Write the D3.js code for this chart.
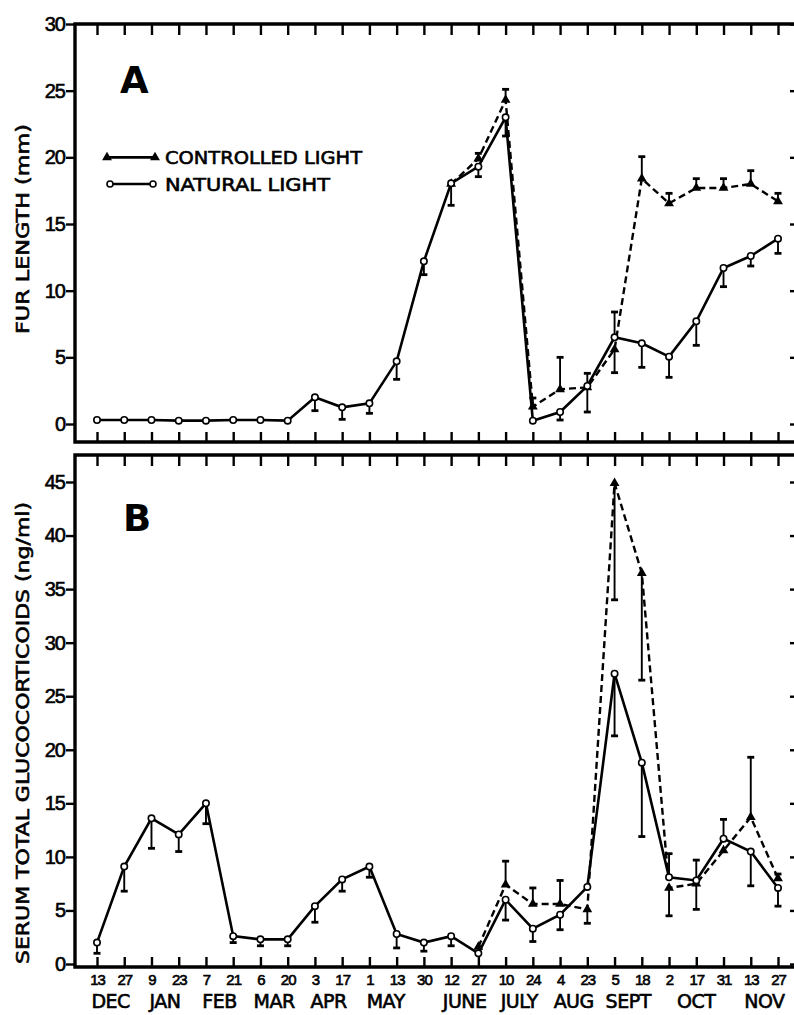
<!DOCTYPE html>
<html>
<head>
<meta charset="utf-8">
<script src="https://cdn.jsdelivr.net/npm/d3@7"></script>
<style>
  body { margin: 0; background: #fff; }
  svg { display: block; font-family: "DejaVu Sans", sans-serif; }
  .axisFig path { display: none; }
  .axisFig line { stroke: #000; stroke-width: 2.4; }
  .axisFig text { fill: #000; stroke: #000; stroke-width: 0.6px; }
  .lab { fill: #000; stroke: #000; stroke-width: 0.6px; }
</style>
</head>
<body>
<svg id="FigSVG"></svg>
<script>
// sampling dates (one point every ~2 weeks, Dec -> Nov)
var dayLabels = ["13","27","9","23","7","21","6","20","3","17","1","13","30",
                 "12","27","10","24","4","23","5","18","2","17","31","13","27"];
var monthLabels = ["DEC","JAN","FEB","MAR","APR","MAY","JUNE","JULY","AUG","SEPT","OCT","NOV"];
// where each month name sits, in units of sample index
var monthCentres = [0.5, 2.5, 4.5, 6.5, 8.5, 10.6, 13.5, 15.5, 17.5, 19.5, 22, 24.5];

var furTicks = [0, 5, 10, 15, 20, 25, 30];
var glucoTicks = [0, 5, 10, 15, 20, 25, 30, 35, 40, 45];

// A: fur length (mm)
var furNatural = [0.3, 0.3, 0.3, 0.25, 0.25, 0.3, 0.3, 0.25, 2.0, 1.25, 1.55, 4.7, 12.2,
                  18.05, 19.3, 23.0, 0.25, 0.9, 2.85, 6.5, 6.05, 5.05, 7.7, 11.7, 12.6, 13.9];
// signed SE: negative = bar drawn below the point
var furNaturalErr = [0, 0, 0, 0, 0, 0, 0, 0, -1.0, -0.9, -0.75, -1.35, -1.0,
                     -1.65, -0.75, -1.4, 0, -0.6, -1.95, 1.9, -1.8, -1.55, -1.8, -1.4, -0.75, -1.1];
var furControlled = [null, null, null, null, null, null, null, null, null, null, null, null, null,
                     18.0, 19.9, 24.3, 1.3, 2.6, 2.75, 5.6, 18.4, 16.55, 17.7, 17.7, 18.0, 16.7];
var furControlledErr = [null, null, null, null, null, null, null, null, null, null, null, null, null,
                        0, 0.4, 0.8, 0.65, 2.4, 1.05, -1.75, 1.65, 0.75, 0.7, 0.7, 1.0, 0.6];

// B: serum total glucocorticoids (ng/ml)
var glucoNatural = [2.0, 9.1, 13.6, 12.1, 15.0, 2.6, 2.3, 2.3, 5.4, 7.9, 9.1, 2.8, 2.0,
                    2.6, 1.0, 6.0, 3.3, 4.6, 7.2, 27.1, 18.8, 8.1, 7.8, 11.7, 10.5, 7.1];
var glucoNaturalErr = [-1.0, -2.3, -2.8, -1.6, -1.9, -0.6, -0.6, -0.6, -1.5, -1.1, -1.0, -1.3, -0.8,
                       -0.9, 0, -1.9, -1.2, -1.4, 0, -5.8, -6.9, 2.2, 1.9, 1.8, -3.2, -1.7];
var glucoControlled = [null, null, null, null, null, null, null, null, null, null, null, null, null, null,
                       1.6, 7.4, 5.6, 5.6, 5.1, 44.9, 36.5, 7.1, 7.5, 10.6, 13.7, 8.0];
var glucoControlledErr = [null, null, null, null, null, null, null, null, null, null, null, null, null, null,
                          0, 2.2, 1.5, 2.2, -1.3, -10.9, -10.0, -2.6, -2.4, 0, 5.6, 0.4];

var width = 794, height = 1015;
var frameLeft = 75, frameRight = 797;

var FigSVG = d3.select("#FigSVG")
    .attr("width", width)
    .attr("height", height);

var x = d3.scaleLinear()
    .domain([0, dayLabels.length - 1])
    .range([97, 778]);

var yA = d3.scaleLinear().domain([0, 30]).range([424, 24]);
var yB = d3.scaleLinear().domain([0, 45]).range([964, 482]);

function drawPanel(y, top, bottom, ticks, nat, natErr, ctl, ctlErr, showDays) {
    var g = FigSVG.append("g");

    // left axis, ticks outward with labels
    g.append("g")
        .attr("class", "axisFig")
        .attr("transform", "translate(" + frameLeft + ",0)")
        .call(d3.axisLeft(y).tickValues(ticks).tickSizeInner(9).tickSizeOuter(0).tickPadding(1))
        .selectAll("text")
        .attr("font-size", "20px")
        .attr("letter-spacing", "-1px");

    // right axis, ticks inward
    g.append("g")
        .attr("class", "axisFig")
        .attr("transform", "translate(" + frameRight + ",0)")
        .call(d3.axisLeft(y).tickValues(ticks).tickSizeInner(7).tickSizeOuter(0).tickFormat(""));

    // top ticks
    g.append("g")
        .attr("class", "axisFig")
        .attr("transform", "translate(0," + top + ")")
        .call(d3.axisBottom(x).tickValues(d3.range(dayLabels.length)).tickSizeInner(11).tickSizeOuter(0).tickFormat(""));

    // bottom ticks (+ day labels on the lower panel)
    var bottomAxis = g.append("g")
        .attr("class", "axisFig")
        .attr("transform", "translate(0," + bottom + ")")
        .call(d3.axisBottom(x).tickValues(d3.range(dayLabels.length)).tickSizeInner(-10).tickSizeOuter(0)
            .tickPadding(7)
            .tickFormat(function(i) { return showDays ? dayLabels[i] : ""; }));
    bottomAxis.selectAll("text")
        .attr("font-size", "15px")
        .attr("letter-spacing", "-1px");

    // frame
    g.append("path")
        .attr("d", "M" + frameRight + "," + top + "H" + frameLeft + "V" + bottom + "H" + frameRight)
        .attr("fill", "none")
        .attr("stroke", "#000")
        .attr("stroke-width", 3.4);

    ////////////////////// error bars //////////////////////
    function errorBars(vals, errs) {
        var idx = d3.range(vals.length).filter(function(i) {
            return vals[i] != null && errs[i];
        });
        var eg = g.append("g").attr("stroke", "#000");
        eg.selectAll("line.bar")
            .data(idx)
            .enter()
            .append("line")
            .attr("class", "bar")
            .attr("x1", function(i) { return x(i); })
            .attr("x2", function(i) { return x(i); })
            .attr("y1", function(i) { return y(vals[i]); })
            .attr("y2", function(i) { return y(vals[i] + errs[i]); })
            .attr("stroke-width", 1.9);
        eg.selectAll("line.cap")
            .data(idx)
            .enter()
            .append("line")
            .attr("class", "cap")
            .attr("x1", function(i) { return x(i) - 3.5; })
            .attr("x2", function(i) { return x(i) + 3.5; })
            .attr("y1", function(i) { return y(vals[i] + errs[i]); })
            .attr("y2", function(i) { return y(vals[i] + errs[i]); })
            .attr("stroke-width", 2.8);
    }
    errorBars(nat, natErr);
    errorBars(ctl, ctlErr);

    ////////////////////// lines //////////////////////
    var line = d3.line()
        .defined(function(d) { return d != null; })
        .x(function(d, i) { return x(i); })
        .y(function(d) { return y(d); });

    g.append("path")
        .datum(ctl)
        .attr("d", line)
        .attr("fill", "none")
        .attr("stroke", "#000")
        .attr("stroke-width", 2.4)
        .attr("stroke-dasharray", "7,4");

    g.append("path")
        .datum(nat)
        .attr("d", line)
        .attr("fill", "none")
        .attr("stroke", "#000")
        .attr("stroke-width", 2.6);

    ////////////////////// markers //////////////////////
    g.selectAll("path.tri")
        .data(d3.range(ctl.length).filter(function(i) { return ctl[i] != null; }))
        .enter()
        .append("path")
        .attr("class", "tri")
        .attr("d", d3.symbol(d3.symbolTriangle).size(42))
        .attr("transform", function(i) { return "translate(" + x(i) + "," + y(ctl[i]) + ")"; })
        .attr("fill", "#000");

    g.selectAll("circle.nat")
        .data(d3.range(nat.length))
        .enter()
        .append("circle")
        .attr("class", "nat")
        .attr("cx", function(i) { return x(i); })
        .attr("cy", function(i) { return y(nat[i]); })
        .attr("r", 3.2)
        .attr("fill", "#fff")
        .attr("stroke", "#000")
        .attr("stroke-width", 1.6);

    return g;
}

var panelA = drawPanel(yA, 24, 442, furTicks, furNatural, furNaturalErr, furControlled, furControlledErr, false);
var panelB = drawPanel(yB, 455, 967, glucoTicks, glucoNatural, glucoNaturalErr, glucoControlled, glucoControlledErr, true);

// panel letters
panelA.append("text")
    .text("A")
    .attr("x", 120)
    .attr("y", 93)
    .attr("font-size", "37px")
    .attr("font-weight", "bold");
panelB.append("text")
    .text("B")
    .attr("x", 123)
    .attr("y", 531)
    .attr("font-size", "37px")
    .attr("font-weight", "bold");

// y titles
FigSVG.append("text")
    .attr("class", "lab")
    .text("FUR LENGTH (mm)")
    .attr("transform", "translate(29,229) rotate(-90)")
    .attr("text-anchor", "middle")
    .attr("font-size", "18px")
    .attr("textLength", 210)
    .attr("lengthAdjust", "spacingAndGlyphs");
FigSVG.append("text")
    .attr("class", "lab")
    .text("SERUM TOTAL GLUCOCORTICOIDS (ng/ml)")
    .attr("transform", "translate(29,733) rotate(-90)")
    .attr("text-anchor", "middle")
    .attr("font-size", "18px")
    .attr("textLength", 462)
    .attr("lengthAdjust", "spacingAndGlyphs");

// month names under the day labels
FigSVG.append("g")
    .selectAll("text")
    .data(monthLabels)
    .enter()
    .append("text")
    .attr("class", "lab")
    .text(function(d) { return d; })
    .attr("x", function(d, i) { return x(monthCentres[i]); })
    .attr("y", 1008)
    .attr("text-anchor", "middle")
    .attr("font-size", "19px")
    .attr("letter-spacing", "-0.5px");

////////////////////// legend //////////////////////
var legend = panelA.append("g");
legend.append("line")
    .attr("x1", 107).attr("x2", 155)
    .attr("y1", yA(20)).attr("y2", yA(20))
    .attr("stroke", "#000").attr("stroke-width", 2.6);
legend.selectAll("path.ltri")
    .data([107, 155])
    .enter()
    .append("path")
    .attr("class", "ltri")
    .attr("d", d3.symbol(d3.symbolTriangle).size(42))
    .attr("transform", function(d) { return "translate(" + d + "," + yA(20) + ")"; });
legend.append("text")
    .attr("class", "lab")
    .text("CONTROLLED LIGHT")
    .attr("x", 165)
    .attr("y", yA(20) + 7)
    .attr("font-size", "18px")
    .attr("textLength", 197)
    .attr("lengthAdjust", "spacingAndGlyphs");

legend.append("line")
    .attr("x1", 110).attr("x2", 153)
    .attr("y1", yA(18)).attr("y2", yA(18))
    .attr("stroke", "#000").attr("stroke-width", 2.6);
legend.selectAll("circle.lc")
    .data([110, 153])
    .enter()
    .append("circle")
    .attr("class", "lc")
    .attr("cx", function(d) { return d; })
    .attr("cy", yA(18))
    .attr("r", 3)
    .attr("fill", "#fff")
    .attr("stroke", "#000")
    .attr("stroke-width", 1.6);
legend.append("text")
    .attr("class", "lab")
    .text("NATURAL LIGHT")
    .attr("x", 165)
    .attr("y", yA(18) + 7)
    .attr("font-size", "18px")
    .attr("textLength", 165)
    .attr("lengthAdjust", "spacingAndGlyphs");
</script>
</body>
</html>
